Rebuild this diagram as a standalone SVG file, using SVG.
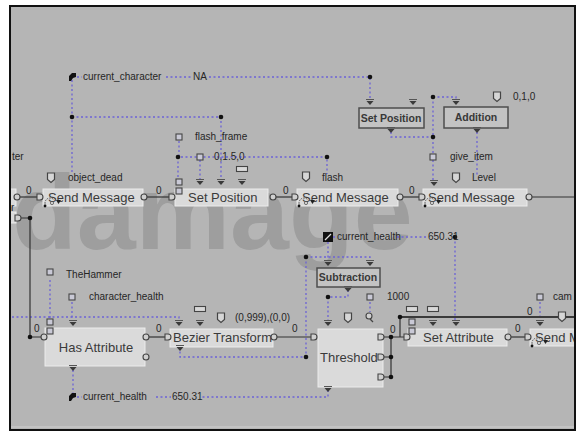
<svg xmlns="http://www.w3.org/2000/svg" width="581" height="432" viewBox="0 0 581 432">
<style>
.bg{fill:#b5b5b5}
.wm{font-family:"Liberation Sans",Arial,sans-serif;font-weight:bold;font-size:106px;fill:#9e9e9e}
.box{fill:#dadada;stroke:#ececec;stroke-width:1}
.sbox{fill:#c3c3c3;stroke:#4e4e4e;stroke-width:1.5}
.title{font-family:"Liberation Sans",Arial,sans-serif;font-size:13px;fill:#3a3a3a}
.stitle{font-family:"Liberation Sans",Arial,sans-serif;font-size:10.5px;font-weight:bold;fill:#383838;text-anchor:middle}
.lbl{font-family:"Liberation Sans",Arial,sans-serif;font-size:10px;fill:#262626}
.dl{fill:none;stroke:#6c63d6;stroke-width:1.3;stroke-dasharray:2 2.5}
.sl{fill:none;stroke:#333;stroke-width:1.2}
.tl{fill:none;stroke:#3a3a3a;stroke-width:2.2}
</style>
<defs>
<clipPath id="frame"><rect x="11" y="7" width="563" height="422"/></clipPath>
<g id="tri"><path d="M-4,-3.5 H4" stroke="#555" stroke-width="1"/><path d="M-3.5,-2 H3.5 L0,2 Z" fill="#3a3a3a"/></g>
<path id="tag" d="M-3.5,-5 H3.5 V1.5 L0,4.5 L-3.5,1.5 Z" fill="#d6d6d6" stroke="#444" stroke-width="1.2"/>
<rect id="sq" x="-3" y="-3" width="6" height="6" fill="#c9c9d6" stroke="#444" stroke-width="1.1"/>
<rect id="bar" x="-5.5" y="-2.5" width="11" height="5" fill="#d8d8d8" stroke="#444" stroke-width="1.1"/>
<circle id="pc" r="3" fill="#d0d0d0" stroke="#444" stroke-width="1.1"/>
<path id="pd" d="M-3,-3 H0 A3,3 0 0 1 0,3 H-3 Z" fill="#d0d0d0" stroke="#444" stroke-width="1.1"/>
<circle id="dot" r="2.3" fill="#111"/>
<g id="snd"><path d="M3,8 A5,5 0 0 1 11,2" fill="none" stroke="#555" stroke-width="1" stroke-dasharray="1.5 1"/><circle cx="2" cy="8" r="1.4" fill="#111"/><path d="M13,2 H18 L15.5,6 Z" fill="#222"/><circle cx="9" cy="5" r="1.6" fill="none" stroke="#555" stroke-width="0.8"/></g>
<path id="hand" d="M-3,4 L-3,-1 L0,-4 L4,-4 L4,0 L1,1 L-1,4 Z" fill="#111"/>
</defs>
<rect x="0" y="0" width="581" height="432" fill="#ffffff"/>
<rect class="bg" x="10" y="6" width="565" height="424" stroke="#111" stroke-width="2"/>
<g clip-path="url(#frame)">
<text class="wm" x="12" y="249">damage</text>
<line x1="11" y1="427" x2="574" y2="427" stroke="#d0d0d0" stroke-width="1"/>

<g id="connectors">
<!-- dotted data links -->
<path class="dl" d="M72,80 V173"/>
<path class="dl" d="M77,77 H82 M166,77 H192 M209,77 H370 V100"/>
<path class="dl" d="M72,117 H221 V179"/>
<path class="dl" d="M179,141 V157 H327 V174 M178,157 V178 M200,160 V179"/>
<path class="dl" d="M391,132 V137 H433 M433,97 V154 M433,97 H456 V100 M433,160 V180"/>
<path class="dl" d="M477,132 V175"/>
<path class="dl" d="M333,237 H336 M397,237 H427 M455,237 V320"/>
<path class="dl" d="M328,242 V260"/>
<path class="dl" d="M306,257 H370 V260 M306,257 V357 H180 V351"/>
<path class="dl" d="M348,290 V297 H328 V320"/>
<path class="dl" d="M370,302 V312"/>
<path class="dl" d="M328,390 V397 H201 M156,397 H171 M77,397 H82"/>
<path class="dl" d="M73,370 V393"/>
<path class="dl" d="M50,280 V319"/>
<path class="dl" d="M72,302 V320"/>
<path class="dl" d="M12,317 H179 V320"/>
<path class="dl" d="M540,302 V320"/>
<!-- solid flow links -->
<path class="sl" d="M17,197 H40"/>
<path class="sl" d="M144,197 H172"/>
<path class="sl" d="M273,197 H295"/>
<path class="sl" d="M400,197 H422"/>
<path class="sl" d="M529,197 H576"/>
<path class="sl" d="M18,218 H30 V337 H44"/>
<path class="sl" d="M146,337 H168"/>
<path class="sl" d="M274,337 H314"/>
<path class="sl" d="M381,337 H391 M381,357 H391 M381,377 H391 M391,337 V377 M391,337 H407 M400,317 V337"/>
<path class="tl" d="M400,317 H576"/>
<path class="sl" d="M508,337 H527"/>
<use href="#dot" x="30" y="218"/>
<use href="#dot" x="30" y="337"/>
<use href="#dot" x="391" y="337"/>
<use href="#dot" x="391" y="357"/>
<use href="#dot" x="391" y="377"/>
<use href="#dot" x="400" y="317"/>
<use href="#dot" x="370" y="77"/>
<use href="#dot" x="72" y="117"/>
<use href="#dot" x="221" y="117"/>
<use href="#dot" x="178" y="157"/>
<use href="#dot" x="327" y="157"/>
<use href="#dot" x="433" y="97"/>
<use href="#dot" x="433" y="137"/>
<use href="#dot" x="455" y="237"/>
<use href="#dot" x="306" y="257"/>
<use href="#dot" x="306" y="357"/>
<use href="#dot" x="328" y="297"/>
<text class="lbl" x="26" y="194">0</text>
<text class="lbl" x="156" y="194">0</text>
<text class="lbl" x="283" y="194">0</text>
<text class="lbl" x="409" y="194">0</text>
<text class="lbl" x="34" y="332">0</text>
<text class="lbl" x="156" y="332">0</text>
<text class="lbl" x="292" y="332">0</text>
<text class="lbl" x="390" y="333">0</text>
<text class="lbl" x="515" y="332">0</text>
<text class="lbl" x="527" y="315">0</text>
</g>

<g id="left-partial">
<rect class="box" x="8" y="189" width="8" height="17"/>
<rect class="box" x="8" y="212" width="8" height="11"/>
<text class="lbl" x="12" y="160">ter</text>
<text class="lbl" x="11" y="211">r</text>
<use href="#pc" x="17" y="197"/>
<use href="#pd" x="18" y="218"/>
</g>

<g id="current-character">
<use href="#hand" x="72" y="77"/>
<text class="lbl" x="83" y="80">current_character</text>
<text class="lbl" x="193" y="80">NA</text>
</g>

<g id="set-position-small">
<rect class="sbox" x="359" y="108" width="65" height="20"/>
<text class="stitle" x="391" y="122">Set Position</text>
<use href="#tri" x="370" y="103"/>
<use href="#tri" x="413" y="103"/>
<use href="#tri" x="391" y="131"/>
</g>

<g id="addition">
<rect class="sbox" x="444" y="107" width="64" height="21"/>
<text class="stitle" x="476" y="121">Addition</text>
<use href="#tri" x="456" y="103"/>
<use href="#tag" x="497" y="97"/>
<text class="lbl" x="513" y="100">0,1,0</text>
<use href="#tri" x="477" y="131"/>
</g>

<g id="send-message-1">
<rect class="box" x="43" y="189" width="100" height="17"/>
<text class="title" x="48" y="202">Send Message</text>
<use href="#pd" x="40" y="197"/>
<use href="#pc" x="144" y="197"/>
<use href="#tag" x="51" y="178"/>
<text class="lbl" x="68" y="181">object_dead</text>
<use href="#snd" x="43" y="198"/>
</g>

<g id="set-position">
<rect class="box" x="175" y="189" width="93" height="17"/>
<text class="title" x="188" y="202">Set Position</text>
<use href="#pd" x="172" y="197"/>
<use href="#pc" x="273" y="197"/>
<use href="#sq" x="179" y="137"/>
<text class="lbl" x="195" y="140">flash_frame</text>
<use href="#sq" x="200" y="157"/>
<text class="lbl" x="214" y="160">0,1.5,0</text>
<use href="#bar" x="242" y="169"/>
<use href="#sq" x="179" y="182"/>
<use href="#sq" x="179" y="191"/>
<use href="#tri" x="200" y="183"/>
<use href="#tri" x="221" y="183"/>
<use href="#tri" x="242" y="183"/>
</g>

<g id="send-message-2">
<rect class="box" x="297" y="189" width="101" height="17"/>
<text class="title" x="302" y="202">Send Message</text>
<use href="#pd" x="295" y="197"/>
<use href="#pc" x="400" y="197"/>
<use href="#tag" x="306" y="177"/>
<text class="lbl" x="322" y="181">flash</text>
<use href="#snd" x="297" y="198"/>
</g>

<g id="send-message-3">
<rect class="box" x="423" y="189" width="104" height="17"/>
<text class="title" x="428" y="202">Send Message</text>
<use href="#pd" x="422" y="197"/>
<use href="#pc" x="529" y="197"/>
<use href="#sq" x="433" y="157"/>
<text class="lbl" x="450" y="160">give_item</text>
<use href="#tag" x="456" y="178"/>
<text class="lbl" x="472" y="181">Level</text>
<use href="#tri" x="434" y="184"/>
<use href="#snd" x="423" y="198"/>
</g>

<g id="current-health-top">
<rect x="323" y="232" width="10" height="10" fill="#111"/>
<path d="M325,240 L331,234" stroke="#ddd" stroke-width="1.2"/>
<text class="lbl" x="337" y="240">current_health</text>
<text class="lbl" x="428" y="240">650.31</text>
</g>

<g id="subtraction">
<rect class="sbox" x="317" y="268" width="63" height="19"/>
<text class="stitle" x="348" y="281">Subtraction</text>
<use href="#tri" x="328" y="264"/>
<use href="#tri" x="370" y="264"/>
<use href="#tri" x="348" y="290"/>
</g>

<g id="has-attribute">
<rect class="box" x="45" y="328" width="100" height="38"/>
<text class="title" x="96" y="352" text-anchor="middle">Has Attribute</text>
<use href="#pc" x="44" y="337"/>
<use href="#pc" x="146" y="337"/>
<use href="#pc" x="146" y="357"/>
<use href="#sq" x="50" y="272"/>
<text class="lbl" x="66" y="278">TheHammer</text>
<use href="#sq" x="72" y="297"/>
<text class="lbl" x="89" y="300">character_health</text>
<use href="#sq" x="50" y="322"/>
<use href="#sq" x="50" y="331"/>
<use href="#tri" x="73" y="324"/>
<use href="#tri" x="73" y="369"/>
</g>

<g id="current-health-bottom">
<use href="#hand" x="72" y="397"/>
<text class="lbl" x="83" y="400">current_health</text>
<text class="lbl" x="172" y="400">650.31</text>
</g>

<g id="bezier-transform">
<rect class="box" x="170" y="329" width="103" height="18"/>
<text class="title" x="173" y="342">Bezier Transform</text>
<use href="#pd" x="168" y="337"/>
<use href="#pc" x="274" y="337"/>
<use href="#bar" x="200" y="309"/>
<use href="#tri" x="179" y="324"/>
<use href="#tri" x="200" y="324"/>
<use href="#tag" x="221" y="318"/>
<text class="lbl" x="235" y="321">(0,999),(0,0)</text>
<use href="#tri" x="180" y="349"/>
</g>

<g id="threshold">
<rect class="box" x="318" y="329" width="65" height="58"/>
<text class="title" x="320" y="362">Threshold</text>
<use href="#pd" x="314" y="337"/>
<use href="#pd" x="381" y="337"/>
<use href="#pd" x="381" y="357"/>
<use href="#pd" x="381" y="377"/>
<use href="#tri" x="328" y="324"/>
<use href="#tag" x="348" y="318"/>
<use href="#sq" x="370" y="297"/>
<text class="lbl" x="387" y="300">1000</text>
<circle cx="369" cy="316" r="3" fill="#d0d0d0" stroke="#444" stroke-width="1.1"/>
<path d="M370,319 L373,322" stroke="#444" stroke-width="1.2"/>
<use href="#tri" x="328" y="390"/>
</g>

<g id="set-attribute">
<rect class="box" x="408" y="329" width="99" height="17"/>
<text class="title" x="423" y="342">Set Attribute</text>
<use href="#pd" x="407" y="337"/>
<use href="#pc" x="508" y="337"/>
<use href="#bar" x="412" y="309"/>
<use href="#bar" x="433" y="309"/>
<use href="#sq" x="412" y="322"/>
<use href="#sq" x="412" y="331"/>
<use href="#tri" x="433" y="324"/>
<use href="#tri" x="456" y="324"/>
</g>

<g id="send-message-4">
<rect class="box" x="530" y="329" width="50" height="17"/>
<text class="title" x="535" y="342">Send M</text>
<use href="#pd" x="528" y="337"/>
<use href="#sq" x="540" y="297"/>
<text class="lbl" x="553" y="300">cam</text>
<use href="#tri" x="540" y="324"/>
<use href="#tag" x="562" y="317"/>
<use href="#snd" x="530" y="338"/>
</g>
</g>
</svg>
